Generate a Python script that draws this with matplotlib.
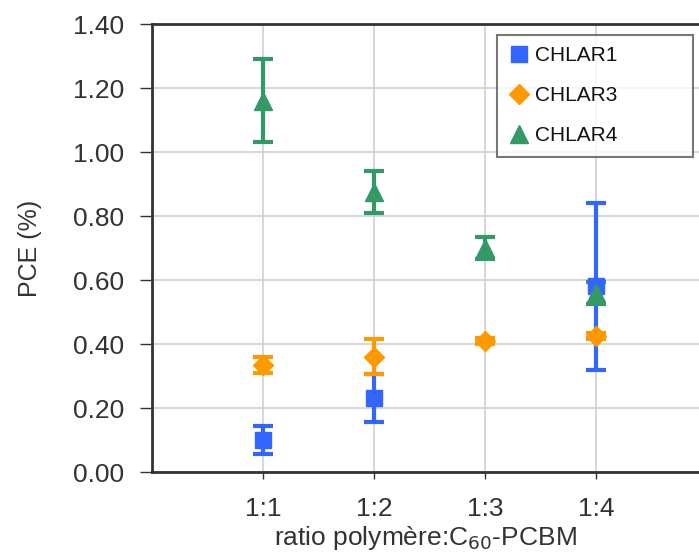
import numpy as np
import matplotlib
matplotlib.use("Agg")
import matplotlib.pyplot as plt
from matplotlib.lines import Line2D

plt.rcParams['font.family'] = ['Liberation Sans', 'DejaVu Sans']

categories = ["1:1", "1:2", "1:3", "1:4"]
chlar1 = [0.10, 0.23, np.nan, 0.58]
chlar1_err = [0.045, 0.075, np.nan, 0.26]
chlar3 = [0.335, 0.36, 0.41, 0.425]
chlar3_err = [0.025, 0.055, 0.01, 0.01]
chlar4 = [1.16, 0.875, 0.70, 0.56]
chlar4_err = [0.13, 0.065, 0.035, 0.035]
yticks = [0.0, 0.2, 0.4, 0.6, 0.8, 1.0, 1.2, 1.4]

fig = plt.figure(figsize=(6.99, 5.59), dpi=100)
ax = fig.add_axes([0.2175, 0.1556, 0.7825, 0.8014])

x = np.arange(1, len(categories) + 1)
series = [
    ("CHLAR1", chlar1, chlar1_err, "#3366FF", "s", 11),
    ("CHLAR3", chlar3, chlar3_err, "#FF9900", "D", 10),
    ("CHLAR4", chlar4, chlar4_err, "#339966", "^", 13),
]
handles = []
for name, vals, errs, col, mk, ms in series:
    ax.errorbar(x, vals, yerr=errs, fmt=mk, color=col, ecolor=col, ms=ms,
                elinewidth=3, capsize=7, capthick=3, zorder=3)
    handles.append(Line2D([], [], linestyle='none', marker=mk, color=col,
                          markersize=ms, label=name))

ax.set_xlim(0, 4.93)
ax.set_ylim(0, 1.4)
ax.set_yticks(yticks)
ax.set_yticklabels([f"{v:.2f}" for v in yticks])
ax.set_xticks(x)
ax.set_xticklabels(categories)
ax.tick_params(axis='both', labelsize=19, colors='#333333', width=1)
ax.tick_params(axis='x', pad=13, length=5)
ax.tick_params(axis='y', pad=11, length=9)
ax.grid(True, color='#d0d0d0', linewidth=1.2)
ax.set_axisbelow(True)
for s in ['left', 'bottom', 'top']:
    ax.spines[s].set_color('#333333')
    ax.spines[s].set_linewidth(2)
ax.spines['right'].set_visible(False)

ax.set_ylabel("PCE (%)", fontsize=18, color='#333333', labelpad=22)
ax.set_xlabel("ratio polymère:C$_{60}$-PCBM", fontsize=19, color='#333333', labelpad=2)

leg = ax.legend(handles=handles, loc='upper left',
                bbox_to_anchor=(497/699, 1 - 155/559, 196/699, 120/559),
                bbox_transform=fig.transFigure, mode='expand',
                fontsize=15, frameon=True, fancybox=False,
                edgecolor='#555555', handletextpad=0.25, handlelength=1.0,
                labelspacing=1.0, borderpad=0.55, borderaxespad=0)
leg.get_frame().set_linewidth(1.5)
for t in leg.get_texts():
    t.set_color('#111111')

fig.savefig("out.png", dpi=100)
